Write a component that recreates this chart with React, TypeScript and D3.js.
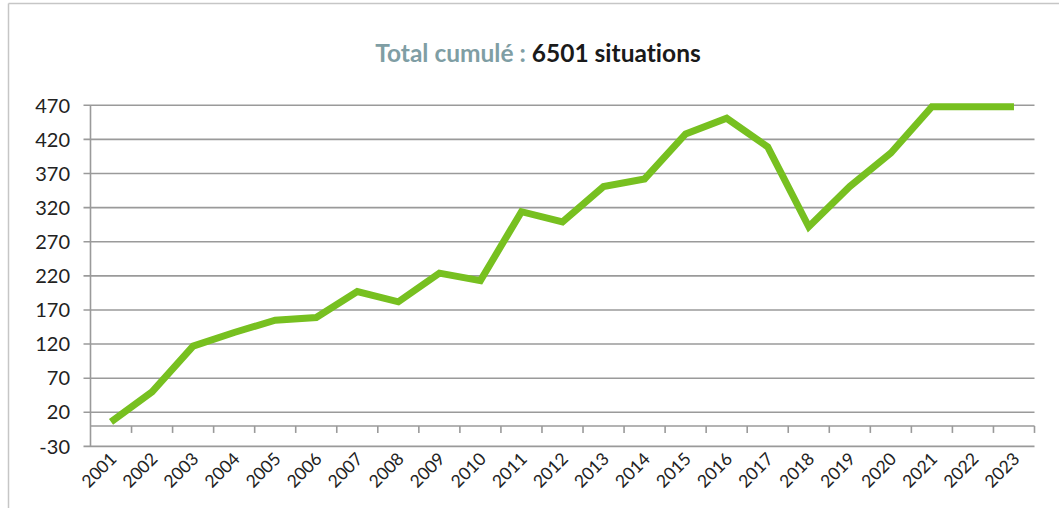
import { useMemo } from "react";
import * as d3 from "d3";

const YEARS = [
  "2001", "2002", "2003", "2004", "2005", "2006", "2007", "2008", "2009", "2010", "2011", "2012",
  "2013", "2014", "2015", "2016", "2017", "2018", "2019", "2020", "2021", "2022", "2023",
];
const SITUATIONS = [
  6, 50, 117, 137, 155, 159, 197, 182, 224, 213, 314, 299,
  351, 362, 428, 451, 409, 292, 351, 400, 468, 468, 468,
];
const Y_TICKS = [-30, 20, 70, 120, 170, 220, 270, 320, 370, 420, 470];
const TITLE_LABEL = "Total cumulé : ";
const TITLE_VALUE = "6501 situations";

const WIDTH = 1059;
const HEIGHT = 508;
const PLOT = { left: 90.5, right: 1034.5, top: 105.3, bottom: 446.4 };
const FONT = "Lato, 'Open Sans', sans-serif";

export default function App() {
  const xScale = useMemo(
    () => d3.scaleBand().domain(YEARS).range([PLOT.left, PLOT.right]).padding(0),
    []
  );
  const yScale = useMemo(
    () => d3.scaleLinear().domain([-30, 470]).range([PLOT.bottom, PLOT.top]),
    []
  );

  const line = d3
    .line<number>()
    .x((_, i) => (xScale(YEARS[i]) ?? 0) + xScale.bandwidth() / 2)
    .y((d) => yScale(d));

  const axisY = yScale(0);

  return (
    <svg
      width={WIDTH}
      height={HEIGHT}
      style={{ position: "absolute", left: 0, top: 0, display: "block", background: "#fff", fontVariantLigatures: "none" }}
    >
      {/* frame */}
      <line x1={8.5} x2={8.5} y1={3.5} y2={HEIGHT} stroke="#c6c6c6" strokeWidth={1.5} />
      <line x1={8.5} x2={WIDTH} y1={3.5} y2={3.5} stroke="#c6c6c6" strokeWidth={1.5} />

      <text x={538} y={62} textAnchor="middle" fontFamily={FONT} fontWeight="bold" fontSize={24.5}>
        <tspan fill="#7f9ea4">{TITLE_LABEL}</tspan>
        <tspan fill="#1a1a1a">{TITLE_VALUE}</tspan>
      </text>

      {/* gridlines + y ticks */}
      {Y_TICKS.map((t) => (
        <g key={t}>
          <line
            x1={PLOT.left - 7}
            x2={PLOT.right}
            y1={yScale(t)}
            y2={yScale(t)}
            stroke="#9a9a9a"
            strokeWidth={1.6}
          />
          <text
            x={70}
            y={yScale(t)}
            dy="0.36em"
            textAnchor="end"
            fontFamily={FONT}
            fontSize={20}
            fill="#222"
          >
            {t}
          </text>
        </g>
      ))}

      {/* y axis */}
      <line x1={PLOT.left} x2={PLOT.left} y1={PLOT.top} y2={PLOT.bottom} stroke="#9a9a9a" strokeWidth={1.6} />

      {/* category axis at 0 */}
      <line x1={PLOT.left} x2={PLOT.right} y1={axisY} y2={axisY} stroke="#9a9a9a" strokeWidth={1.6} />
      {YEARS.map((y) => (
        <line
          key={y}
          x1={(xScale(y) ?? 0) + xScale.bandwidth()}
          x2={(xScale(y) ?? 0) + xScale.bandwidth()}
          y1={axisY}
          y2={axisY + 7}
          stroke="#9a9a9a"
          strokeWidth={1.6}
        />
      ))}

      {YEARS.map((y) => {
        const cx = (xScale(y) ?? 0) + xScale.bandwidth() / 2 - 2;
        const cy = PLOT.bottom + 5;
        return (
          <text
            key={y}
            transform={`translate(${cx},${cy}) rotate(-45)`}
            textAnchor="end"
            dy="0.7em"
            fontFamily={FONT}
            fontSize={17.5}
            fill="#222"
          >
            {y}
          </text>
        );
      })}

      <path
        d={line(SITUATIONS) ?? ""}
        fill="none"
        stroke="#77c020"
        strokeWidth={7}
        strokeLinejoin="miter"
      />
    </svg>
  );
}
